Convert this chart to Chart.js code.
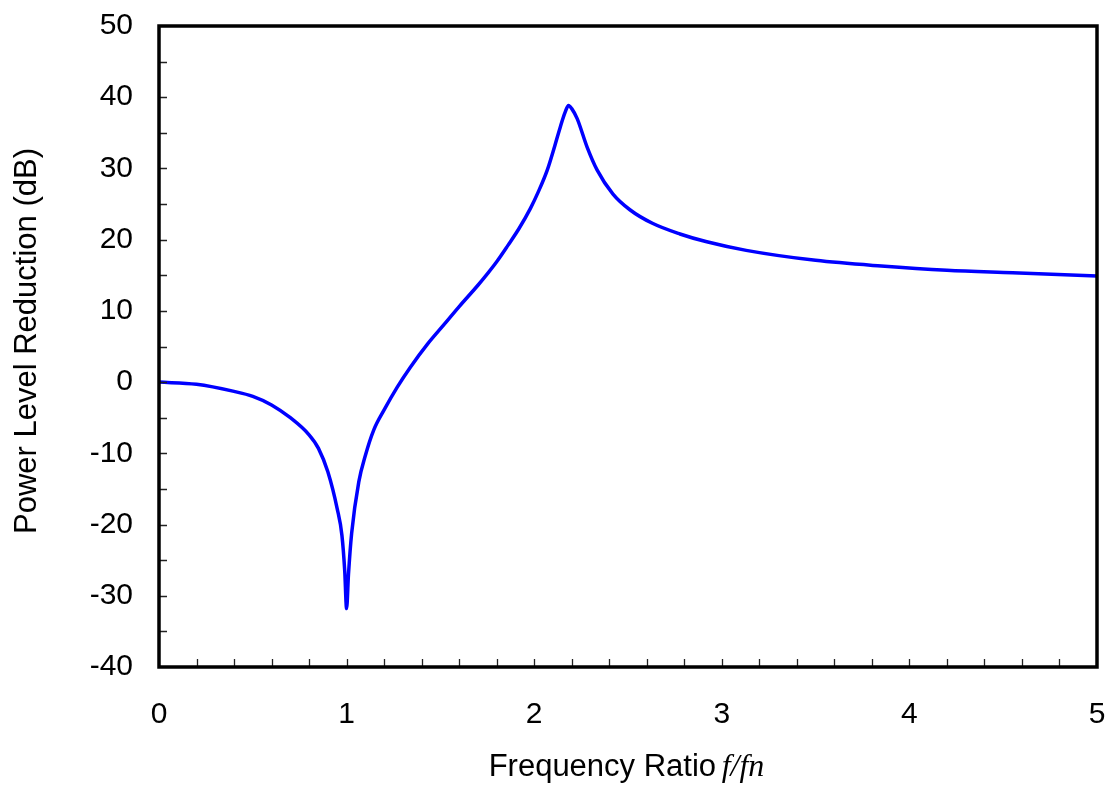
<!DOCTYPE html>
<html>
<head>
<meta charset="utf-8">
<script src="https://cdn.jsdelivr.net/npm/chart.js@4/dist/chart.umd.min.js"></script>
<style>
  html, body { margin: 0; padding: 0; background: #fff; }
  #wrap { width: 1112px; height: 790px; position: relative; }
</style>
</head>
<body>
<div id="wrap"><canvas id="c" width="1112" height="790"></canvas></div>
<script>
// ---- data ----
const freqRatio = [0, 0.2, 0.4, 0.5, 0.6, 0.7, 0.8, 0.85, 0.9, 0.95, 0.975, 0.99, 1.0, 1.01, 1.027, 1.065, 1.1, 1.145, 1.2, 1.27, 1.34, 1.43, 1.52, 1.6, 1.7, 1.75, 1.8, 1.86, 1.92, 1.98, 2.02, 2.07, 2.11, 2.14, 2.165, 2.183, 2.2, 2.229, 2.282, 2.335, 2.42, 2.51, 2.63, 2.777, 2.92, 3.13, 3.5, 3.85, 4.2, 4.55, 5.0];
const reductionDb = [0, -0.3, -1.3, -2.0, -3.2, -5.0, -7.4, -9.3, -12.6, -17.8, -21.5, -26.5, -31.8, -27, -21.2, -14, -10.3, -6.7, -3.9, -0.7, 2.1, 5.3, 8.1, 10.6, 13.6, 15.2, 16.9, 19.2, 21.6, 24.4, 26.6, 29.8, 33.2, 35.9, 37.9, 38.85, 38.4, 37.0, 33.0, 29.8, 26.4, 24.2, 22.3, 20.8, 19.7, 18.5, 17.1, 16.3, 15.7, 15.35, 14.9];

const xTickLabels = [0, 1, 2, 3, 4, 5];
const yTickLabels = [-40, -30, -20, -10, 0, 10, 20, 30, 40, 50];
const xTickMarks = [0.2, 0.4, 0.6, 0.8, 1.0, 1.2, 1.4, 1.6, 1.8, 2.0, 2.2, 2.4, 2.6, 2.8, 3.0, 3.2, 3.4, 3.6, 3.8, 4.0, 4.2, 4.4, 4.6, 4.8];
const yTickMarks = [-35, -30, -25, -20, -15, -10, -5, 0, 5, 10, 15, 20, 25, 30, 35, 40, 45];

const xTitle = 'Frequency Ratio ';
const xTitleItalic = 'f/fn';
const yTitle = 'Power Level Reduction (dB)';

const points = freqRatio.map((f, i) => ({ x: f, y: reductionDb[i] }));

const frameAndTicks = {
  id: 'frameAndTicks',
  afterDraw(chart) {
    const ctx = chart.ctx, a = chart.chartArea;
    const xs = chart.scales.x, ys = chart.scales.y;
    ctx.save();
    // inward tick marks
    ctx.strokeStyle = '#222';
    ctx.lineWidth = 1.3;
    ctx.beginPath();
    xTickMarks.forEach(v => {
      const px = Math.round(xs.getPixelForValue(v)) + 0.5;
      ctx.moveTo(px, a.bottom);
      ctx.lineTo(px, a.bottom - 8);
    });
    yTickMarks.forEach(v => {
      const py = Math.round(ys.getPixelForValue(v)) + 0.5;
      ctx.moveTo(a.left, py);
      ctx.lineTo(a.left + 8, py);
    });
    ctx.stroke();
    // frame
    ctx.strokeStyle = '#000';
    ctx.lineWidth = 3.5;
    ctx.strokeRect(a.left, a.top, a.right - a.left, a.bottom - a.top);
    // x title (mixed fonts)
    ctx.fillStyle = '#000';
    ctx.textBaseline = 'alphabetic';
    const f1 = '31px "Liberation Sans", Arial, sans-serif';
    const f2 = 'italic 32px "Liberation Serif", "Times New Roman", serif';
    ctx.font = f1; const w1 = ctx.measureText(xTitle).width;
    ctx.font = f2; const w2 = ctx.measureText(xTitleItalic).width;
    const cx = (a.left + a.right) / 2;
    let x0 = cx - (w1 + w2) / 2;
    ctx.font = f1; ctx.textAlign = 'left';
    ctx.fillText(xTitle, x0, 776);
    ctx.font = f2;
    ctx.fillText(xTitleItalic, x0 + w1 - 3, 776);
    // y title
    ctx.save();
    ctx.translate(36, 341);
    ctx.rotate(-Math.PI / 2);
    ctx.font = f1; ctx.textAlign = 'center';
    ctx.fillText(yTitle, 0, 0);
    ctx.restore();
    ctx.restore();
  }
};

new Chart(document.getElementById('c'), {
  type: 'line',
  data: {
    datasets: [{
      data: points,
      borderColor: '#0000FF',
      borderWidth: 3.5,
      pointRadius: 0,
      fill: false,
      cubicInterpolationMode: 'monotone'
    }]
  },
  options: {
    responsive: false,
    animation: false,
    events: [],
    layout: { padding: { left: 0, right: 15, top: 26, bottom: 0 } },
    plugins: { legend: { display: false }, tooltip: { enabled: false } },
    scales: {
      x: {
        type: 'linear', min: 0, max: 5,
        afterBuildTicks: s => { s.ticks = xTickLabels.map(v => ({ value: v })); },
        afterFit: s => { s.height = 123; s.paddingLeft = 0; s.paddingRight = 0; },
        grid: { display: false, drawTicks: false },
        border: { display: false },
        ticks: { color: '#000', padding: 30, font: { family: '"Liberation Sans", Arial, sans-serif', size: 30 } }
      },
      y: {
        type: 'linear', min: -40, max: 50,
        afterBuildTicks: s => { s.ticks = yTickLabels.map(v => ({ value: v })); },
        afterFit: s => { s.width = 159; s.paddingTop = 0; s.paddingBottom = 0; },
        grid: { display: false, drawTicks: false },
        border: { display: false },
        ticks: { color: '#000', padding: 26, font: { family: '"Liberation Sans", Arial, sans-serif', size: 30 } }
      }
    }
  },
  plugins: [frameAndTicks]
});
</script>
</body>
</html>
